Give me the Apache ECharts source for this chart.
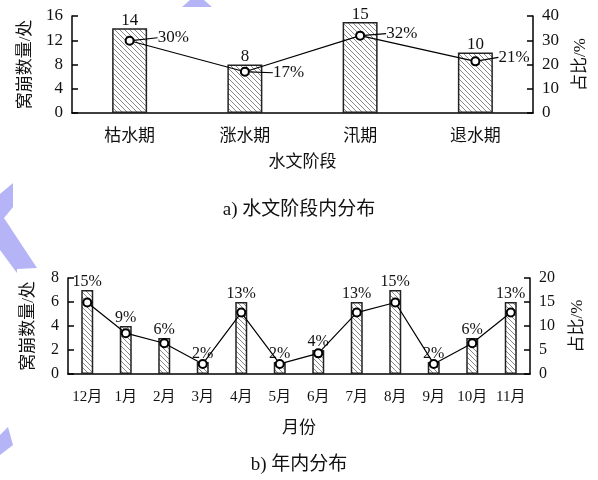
<!DOCTYPE html>
<html><head><meta charset="utf-8">
<script src="https://cdn.jsdelivr.net/npm/echarts@6/dist/echarts.min.js"></script>
<style>html,body{margin:0;padding:0;background:#fff}#c{width:598px;height:480px}</style>
</head><body><div id="c"></div>
<script>
// ---- data ----
var stageCats = ['枯水期', '涨水期', '汛期', '退水期'];
var stageCounts = [14, 8, 15, 10];
var stageShare = [29.8, 17.0, 31.9, 21.3];
var stageShareLabels = ['30%', '17%', '32%', '21%'];

var monthCats = ['12月', '1月', '2月', '3月', '4月', '5月', '6月', '7月', '8月', '9月', '10月', '11月'];
var monthCounts = [7, 4, 3, 1, 6, 1, 2, 6, 7, 1, 3, 6];
var monthShare = [14.9, 8.5, 6.4, 2.1, 12.8, 2.1, 4.3, 12.8, 14.9, 2.1, 6.4, 12.8];
var monthShareLabels = ['15%', '9%', '6%', '2%', '13%', '2%', '4%', '13%', '15%', '2%', '6%', '13%'];

var leftTicksA = [0, 4, 8, 12, 16];
var rightTicksA = [0, 10, 20, 30, 40];
var leftTicksB = [0, 2, 4, 6, 8];
var rightTicksB = [0, 5, 10, 15, 20];

// label offsets (style) for the share labels in chart a
var shareLabelDx = [18, 18, 16, 13];
var shareLabelDy = [-3, 1, -2, -4];

// ---- hatch pattern ----
function hatch() {
  var s = 5, c = document.createElement('canvas');
  c.width = s; c.height = s;
  var g = c.getContext('2d');
  g.fillStyle = '#fff'; g.fillRect(0, 0, s, s);
  g.strokeStyle = '#7a7a7a'; g.lineWidth = 0.9;
  g.beginPath();
  g.moveTo(-1, -1); g.lineTo(s + 1, s + 1);
  g.moveTo(-1, s - 1); g.lineTo(1, s + 1);
  g.moveTo(s - 1, -1); g.lineTo(s + 1, 1);
  g.stroke();
  return c;
}
var pat = { image: hatch(), repeat: 'repeat' };

var FONT = "'Liberation Serif', 'Noto Sans CJK SC', serif";
var black = '#000';

function yAxis(grid, ticks, pos, name, gap, fs) {
  return {
    type: 'value', gridIndex: grid, position: pos,
    min: ticks[0], max: ticks[ticks.length - 1], interval: ticks[1] - ticks[0],
    name: name, nameLocation: 'middle', nameRotate: 90, nameGap: gap,
    nameTextStyle: { fontFamily: FONT, fontSize: 17, color: '#111' },
    axisLine: { show: true, lineStyle: { color: black, width: 1.5 } },
    axisTick: { show: true, inside: true, length: 6, lineStyle: { color: black, width: 1.5 } },
    axisLabel: { fontFamily: FONT, fontSize: fs, color: '#111', margin: 9 },
    splitLine: { show: false }
  };
}
function xAxis(grid, cats, name, gap, fs, margin) {
  return {
    type: 'category', gridIndex: grid, data: cats,
    name: name, nameLocation: 'middle', nameGap: gap,
    nameTextStyle: { fontFamily: FONT, fontSize: 17, color: '#111' },
    axisLine: { show: true, lineStyle: { color: black, width: 1.5 } },
    axisTick: { show: false },
    axisLabel: { fontFamily: FONT, fontSize: fs, color: '#111', margin: margin, interval: 0 },
    splitLine: { show: false }
  };
}

var chart = echarts.init(document.getElementById('c'), null, { renderer: 'canvas' });
chart.setOption({
  animation: false,
  backgroundColor: '#fff',
  graphic: [
    { type: 'polygon', shape: { points: [[190, 0], [204, 0], [212, 7], [182, 7]] }, style: { fill: '#b4b4f7' }, z: -10 },
    { type: 'polygon', shape: { points: [[13, 183], [13, 207], [4, 218], [37, 268], [17, 269], [17, 273], [0, 250], [0, 194]] }, style: { fill: '#b4b4f7' }, z: -10 },
    { type: 'polygon', shape: { points: [[8, 427], [13, 445], [0, 455], [0, 435]] }, style: { fill: '#b4b4f7' }, z: -10 }
  ],
  title: [
    { text: 'a) 水文阶段内分布', left: 'center', top: 196, textStyle: { fontFamily: FONT, fontSize: 19, fontWeight: 'normal', color: '#111' } },
    { text: 'b) 年内分布', left: 'center', top: 451, textStyle: { fontFamily: FONT, fontSize: 19, fontWeight: 'normal', color: '#111' } }
  ],
  grid: [
    { left: 72, right: 65, top: 16, height: 97 },
    { left: 68, right: 68, top: 278, height: 96 }
  ],
  xAxis: [
    xAxis(0, stageCats, '水文阶段', 41, 17, 15),
    xAxis(1, monthCats, '月份', 46, 15, 16)
  ],
  yAxis: [
    yAxis(0, leftTicksA, 'left', '窝崩数量/处', 38, 17),
    yAxis(0, rightTicksA, 'right', '占比/%', 39, 17),
    yAxis(1, leftTicksB, 'left', '窝崩数量/处', 31, 16),
    yAxis(1, rightTicksB, 'right', '占比/%', 39, 16)
  ],
  series: [
    {
      type: 'bar', xAxisIndex: 0, yAxisIndex: 0, data: stageCounts, barWidth: 35,
      itemStyle: { color: pat, borderColor: '#222', borderWidth: 1.5 },
      label: { show: true, position: 'top', distance: -1, fontFamily: FONT, fontSize: 17, color: '#111' }
    },
    {
      type: 'line', xAxisIndex: 0, yAxisIndex: 1, data: stageShare,
      symbol: 'emptyCircle', symbolSize: 8,
      lineStyle: { color: black, width: 1.2 },
      itemStyle: { color: black, borderColor: black, borderWidth: 1.2 },
      label: {
        show: true, position: 'right', distance: 5,
        fontFamily: FONT, fontSize: 17, color: '#111',
        formatter: function (p) { return stageShareLabels[p.dataIndex]; }
      },
      labelLine: { show: true, lineStyle: { color: black, width: 1.2 } },
      labelLayout: function (p) { return { dx: shareLabelDx[p.dataIndex], dy: shareLabelDy[p.dataIndex] }; },
      z: 5
    },
    {
      type: 'bar', xAxisIndex: 1, yAxisIndex: 2, data: monthCounts, barWidth: 12,
      itemStyle: { color: pat, borderColor: '#222', borderWidth: 1.5 },
      label: {
        show: true, position: 'top', distance: 0, fontFamily: FONT, fontSize: 16, color: '#111',
        formatter: function (p) { return monthShareLabels[p.dataIndex]; }
      }
    },
    {
      type: 'line', xAxisIndex: 1, yAxisIndex: 3, data: monthShare,
      symbol: 'emptyCircle', symbolSize: 8,
      lineStyle: { color: black, width: 1.2 },
      itemStyle: { color: black, borderColor: black, borderWidth: 1.2 },
      z: 5
    }
  ]
});
</script></body></html>
